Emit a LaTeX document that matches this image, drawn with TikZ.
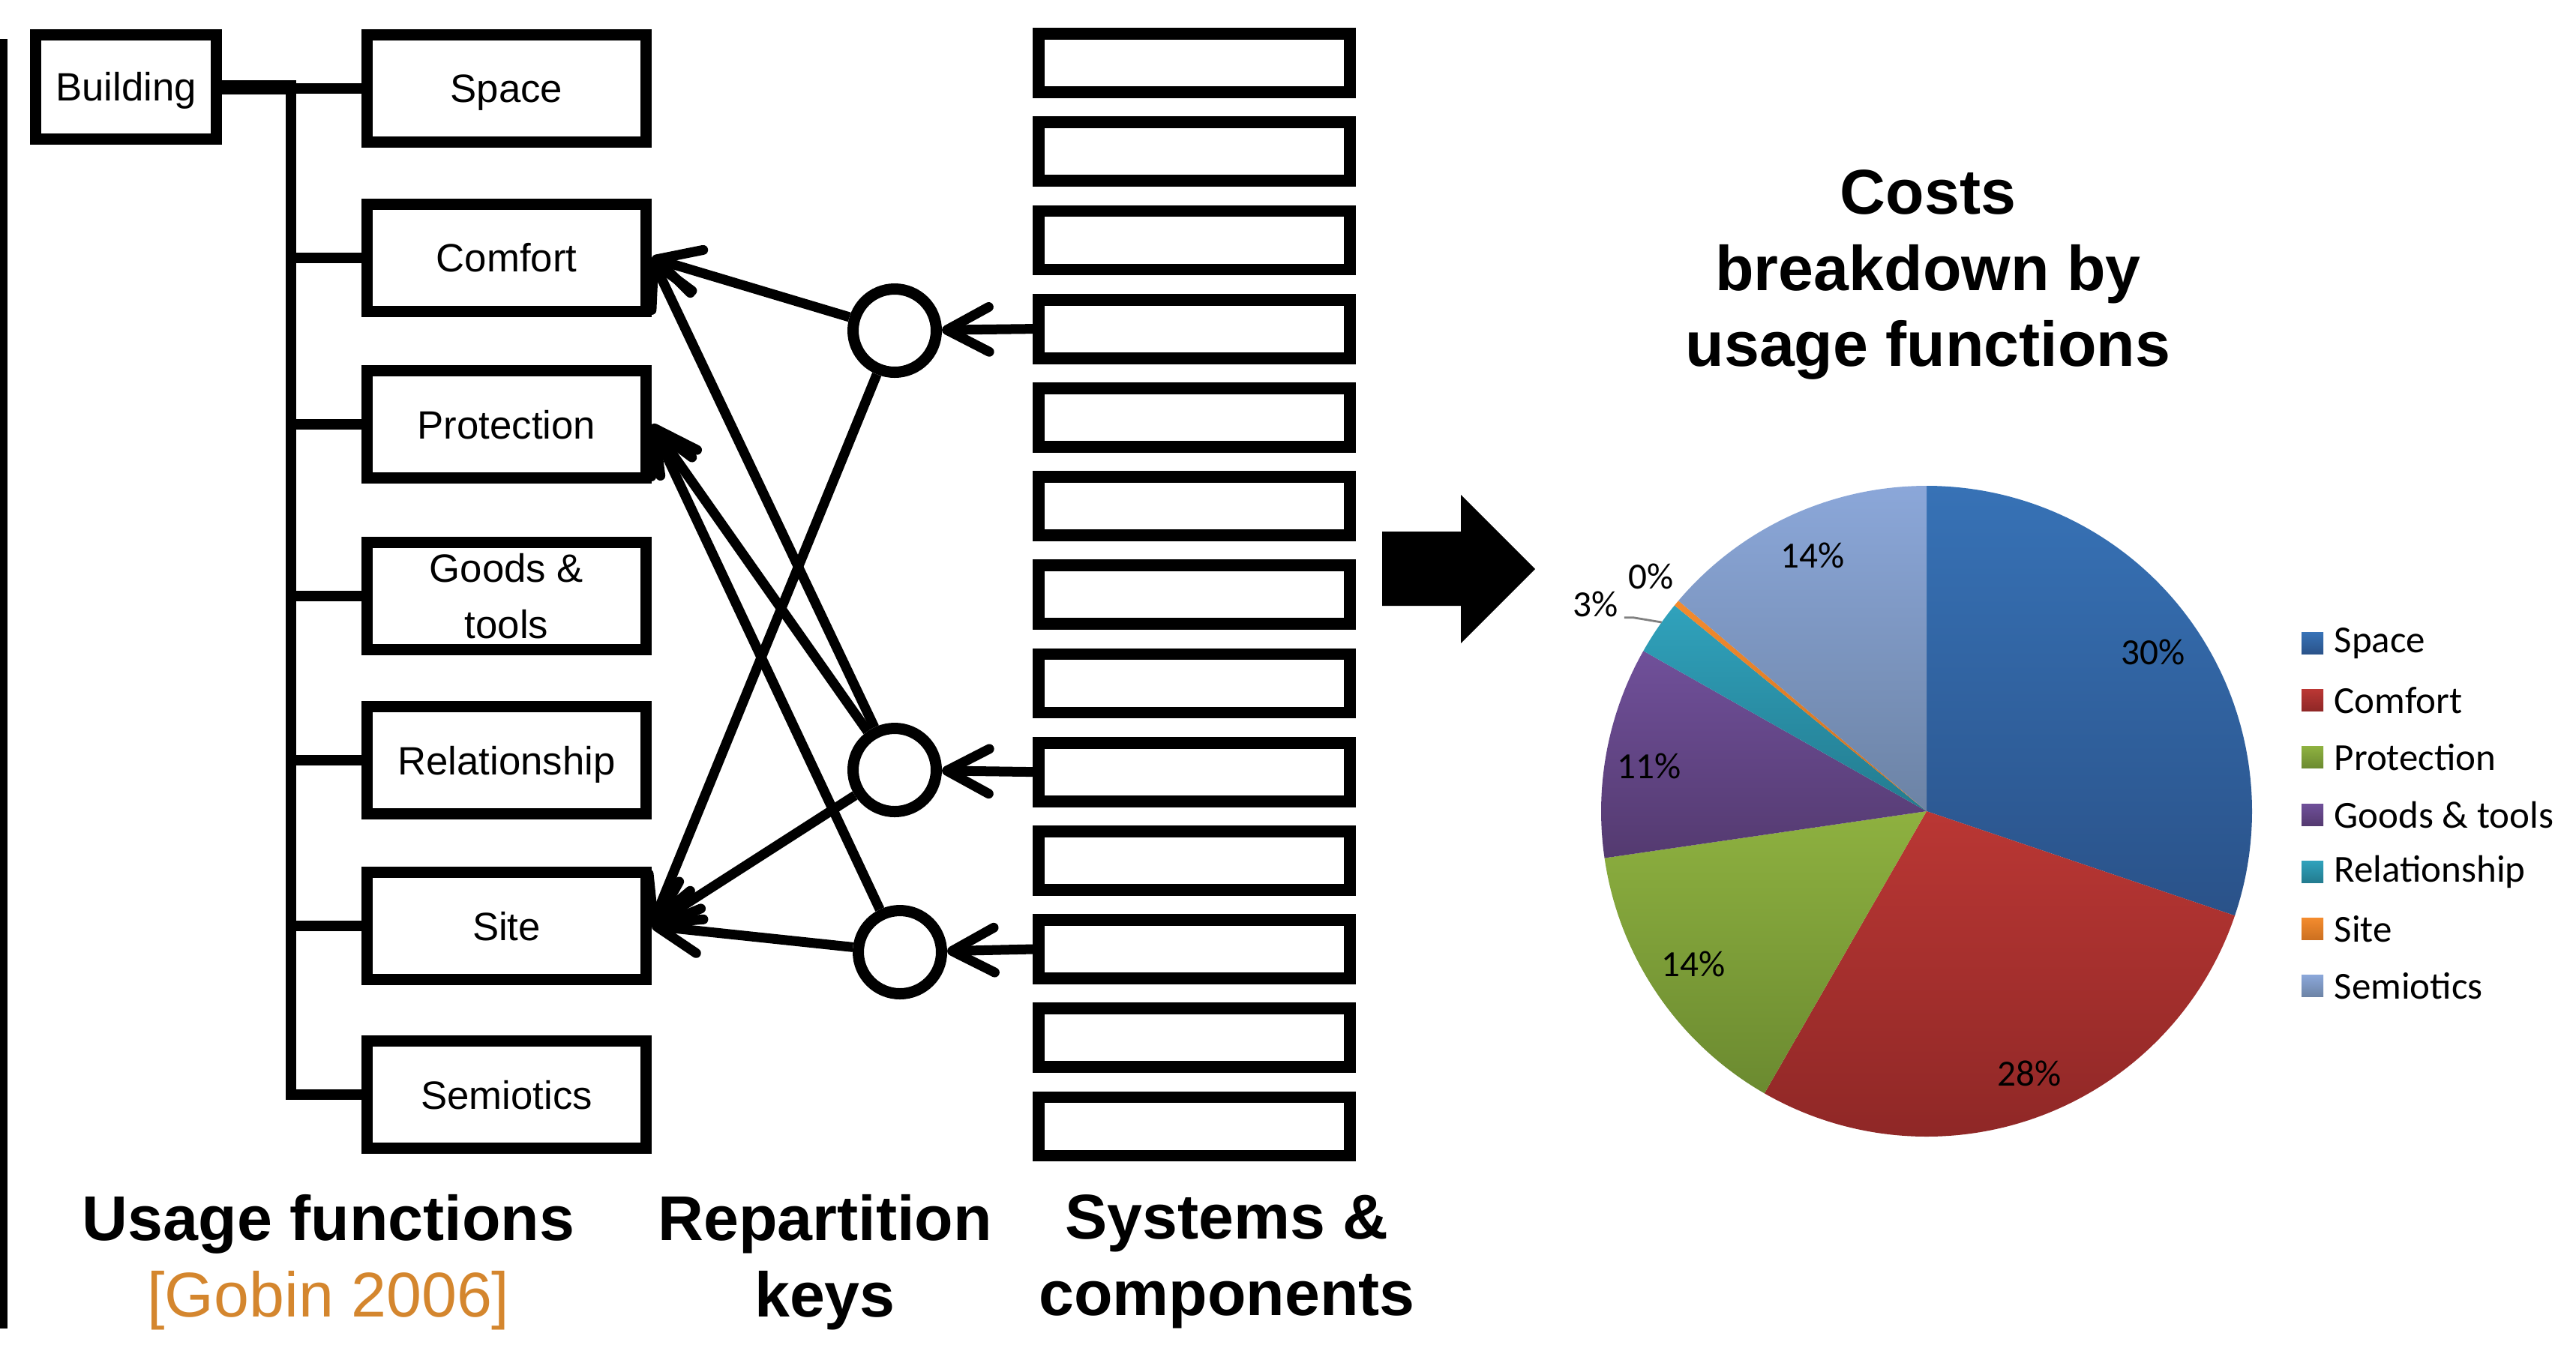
\documentclass[tikz,border=0pt]{standalone}
\usepackage{fontspec}
\setmainfont{Liberation Sans}
\newfontfamily\chartfont{Carlito}
\usetikzlibrary{arrows.meta,positioning}
\usepackage{xcolor}

\definecolor{gobin}{RGB}{212,134,46}
\definecolor{spaceT}{HTML}{3772B6}
\definecolor{spaceB}{HTML}{2A5289}
\definecolor{comfortT}{HTML}{BA3734}
\definecolor{comfortB}{HTML}{8E2726}
\definecolor{protT}{HTML}{8EB140}
\definecolor{protB}{HTML}{6B8A30}
\definecolor{goodsT}{HTML}{70509A}
\definecolor{goodsB}{HTML}{543A70}
\definecolor{relT}{HTML}{30A2BC}
\definecolor{relB}{HTML}{237B8F}
\definecolor{siteT}{HTML}{F38B2E}
\definecolor{siteB}{HTML}{CC7020}
\definecolor{semioT}{HTML}{8BA7D9}
\definecolor{semioB}{HTML}{6C83A5}

\begin{document}
\begin{tikzpicture}[
        fbox/.style={draw, line width=4.27pt, minimum width=3.72cm, minimum height=1.43cm,
            inner sep=0pt, align=center, font=\fontsize{15}{21.3}\selectfont},
        oneline/.style={text height=10.8pt, text depth=0pt},
        sysbox/.style={draw, line width=4.5pt, minimum width=4.15cm, minimum height=0.78cm, inner sep=0pt},
        keynode/.style={draw, circle, line width=4.27pt, minimum size=1.11cm, inner sep=0pt},
        tree/.style={line width=4.1pt, line cap=rect},
        link/.style={line width=3.7pt, -{Straight Barb[length=16pt, width=17pt, round]}},
        title/.style={anchor=north, inner sep=0pt, align=center,
            font=\fontsize{24}{28.9}\selectfont\bfseries},
        pct/.style={inner sep=0pt, font=\chartfont\fontsize{14}{16}\selectfont},
        legend/.style={anchor=west, inner sep=0pt, font=\chartfont\fontsize{14.5}{17}\selectfont}
    ]
            \useasboundingbox (0,0) rectangle (34.35,-17.97);
            \draw[line width=2.85pt] (0.05,-0.52) -- (0.05,-17.72);

            \node[fbox, oneline, minimum width=2.41cm, minimum height=1.39cm] (Building) at (1.68,-1.16) {Building};
            \foreach \name/\txt/\y/\opt in {Space/Space/1.18/oneline, Comfort/Comfort/3.44/oneline,
                Protection/Protection/5.66/oneline, Goods/{Goods \&\\tools}/7.95/{},
                Relationship/Relationship/10.14/oneline, Site/Site/12.35/oneline, Semiotics/Semiotics/14.60/oneline}
            {
                \node[fbox, \opt] (\name) at (6.755,-\y) {\txt};
            }
            \coordinate (jn) at (3.88,-1.16);
            \draw[tree, line width=5.4pt, line cap=butt] (Building.east) -- ([xshift=2pt]jn);
            \draw[tree] (jn) -- (jn |- Semiotics.west);
            \foreach \name in {Space,Comfort,Protection,Goods,Relationship,Site,Semiotics}
            {
                \draw[tree] (jn |- \name.west) -- (\name.west);
            }

            \node[keynode] (k1) at (11.93,-4.41) {};
            \node[keynode] (k2) at (11.93,-10.27) {};
            \node[keynode] (k3) at (12.00,-12.70) {};
            \foreach \i in {1,...,13}
            {
                \node[sysbox] (s\i) at (15.925,{-0.84-1.182*(\i-1)}) {};
            }
            \draw[link] (s4.west) -- (k1);
            \draw[link] (s9.west) -- (k2);
            \draw[link] (s11.west) -- (k3);
            \foreach \a/\b in {k1/Comfort, k1/Site, k2/Comfort, k2/Protection, k2/Site, k3/Protection, k3/Site}
            {
                \draw[link] (\a) -- (\b.east);
            }

            \node[title] (usage) at (4.38,-15.93) {Usage functions\\{\mdseries\color{gobin}[Gobin 2006]}};
            \node[title] (rep) at (11.00,-15.93) {Repartition\\keys};
            \node[title] (sys) at (16.36,-15.93) {Systems \&\\components};

            \fill (18.43,-7.09) -- (19.48,-7.09) -- (19.48,-6.60) -- (20.47,-7.59) -- (19.48,-8.58)
                -- (19.48,-8.08) -- (18.43,-8.08) -- cycle;

            \node[title] (costs) at (25.71,-2.26) {Costs\\breakdown by\\usage functions};
            \coordinate (pc) at (25.69,-10.82);
            \foreach \s/\e/\ct/\cb in {90/-18.72/spaceT/spaceB, -18.72/-119.88/comfortT/comfortB,
                -119.88/-171.72/protT/protB, -171.72/-209.52/goodsT/goodsB, -209.52/-219.24/relT/relB,
                -219.24/-220.32/siteT/siteB, -220.32/-270/semioT/semioB}
            {
                \shade[top color=\ct, bottom color=\cb] (pc) -- ++(\s:4.34) arc[start angle=\s, end angle=\e, radius=4.34] -- cycle;
            }
            \node[pct] (l30) at (28.71,-8.70) {30\%};
            \node[pct] (l28) at (27.06,-14.32) {28\%};
            \node[pct] (l14a) at (22.58,-12.86) {14\%};
            \node[pct] (l11) at (21.99,-10.22) {11\%};
            \node[pct] (l3) at (21.28,-8.06) {3\%};
            \node[pct] (l0) at (22.02,-7.69) {0\%};
            \node[pct] (l14b) at (24.17,-7.41) {14\%};
            \path (pc) ++(144.5:4.34) coordinate (rp);
            \draw[gray, line width=0.8pt] ([xshift=2pt]l3.south east) -- ++(0.12,0) -- (rp);

            \foreach \txt/\ct/\cb [count=\i] in {Space/spaceT/spaceB, Comfort/comfortT/comfortB,
                Protection/protT/protB, {Goods \& tools}/goodsT/goodsB, Relationship/relT/relB,
                Site/siteT/siteB, Semiotics/semioT/semioB}
            {
                \shade[top color=\ct, bottom color=\cb] (30.69,{-8.435-0.762*(\i-1)}) rectangle ++(0.29,-0.29);
                \node[legend] (lg\i) at (31.12,{-8.58-0.762*(\i-1)}) {\txt};
            }
        \end{tikzpicture}
\end{document}
